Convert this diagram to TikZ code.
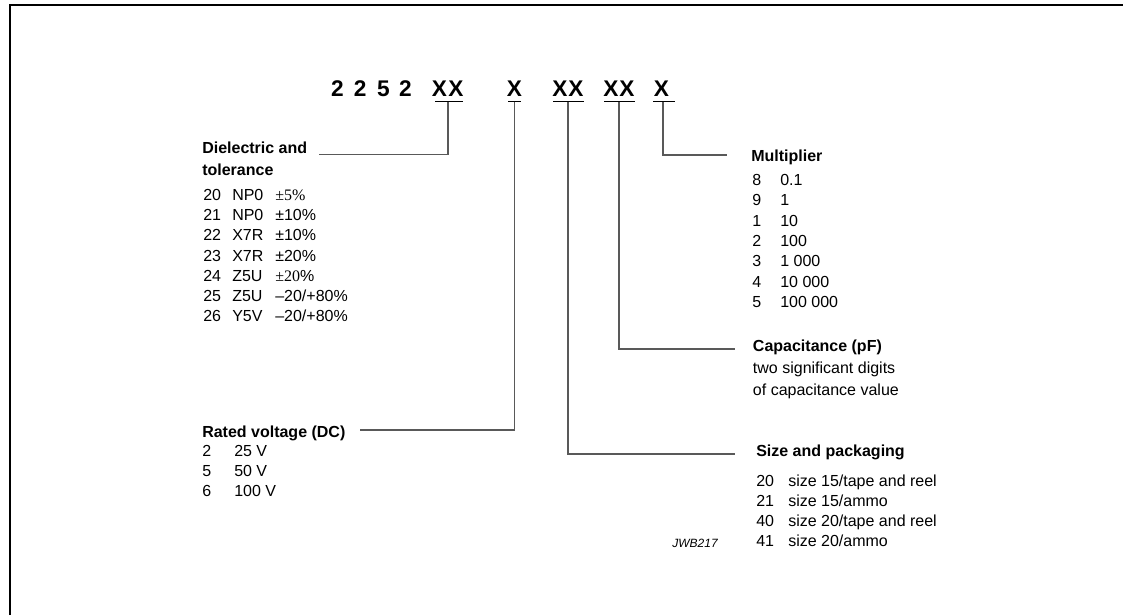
\documentclass[tikz,border=0pt]{standalone}
\usepackage{fontspec}
\setmainfont{Liberation Sans}
\newfontfamily\timesfont{Liberation Serif}
\usetikzlibrary{positioning,calc}
\tikzstyle{code}=[font=\fontsize{17}{20}\selectfont\bfseries, inner sep=0pt, anchor=base]
\tikzstyle{heading}=[font=\fontsize{12}{15}\selectfont\bfseries, inner sep=0pt, anchor=base west]
\tikzstyle{entry}=[font=\fontsize{12}{15}\selectfont, inner sep=0pt, anchor=base west]
\tikzstyle{underline}=[draw=black, line width=1.1pt]
\tikzstyle{leader}=[draw=black!65, line width=0.8pt]

\begin{document}
\begin{tikzpicture}[x=0.75pt, y=-0.75pt]

        \useasboundingbox (0,0) rectangle (1123,615);
        \draw[line width=1.5pt] (10,615) -- (10,5) -- (1123,5);

        % Type number
        \node (digit1) [code] at (337.5,96.7) {2};
        \node (digit2) [code] at ($(digit1.base)+(22.6,0)$) {2};
        \node (digit3) [code] at ($(digit2.base)+(23.4,0)$) {5};
        \node (digit4) [code] at ($(digit3.base)+(22,0)$) {2};

        \node (diel-x1) [code] at (439.5,96.7) {X};
        \node (diel-x2) [code] at ($(diel-x1.base)+(16.5,0)$) {X};
        \node (volt-x) [code] at (514.5,96.7) {X};
        \node (size-x1) [code] at (560,96.7) {X};
        \node (size-x2) [code] at ($(size-x1.base)+(16,0)$) {X};
        \node (cap-x1) [code] at (611,96.7) {X};
        \node (cap-x2) [code] at ($(cap-x1.base)+(16,0)$) {X};
        \node (mult-x) [code] at (661.5,96.7) {X};

        \coordinate (diel-field) at (449,101.7);
        \coordinate (volt-field) at (514.5,101.7);
        \coordinate (size-field) at (568.5,101.7);
        \coordinate (cap-field) at (619.5,101.7);
        \coordinate (mult-field) at (664,101.7);

        \draw[underline] ($(diel-field)+(-14,0)$) -- ($(diel-field)+(14,0)$);
        \draw[underline] ($(volt-field)+(-6.5,0)$) -- ($(volt-field)+(6.5,0)$);
        \draw[underline] ($(size-field)+(-15.5,0)$) -- ($(size-field)+(15.5,0)$);
        \draw[underline] ($(cap-field)+(-15.5,0)$) -- ($(cap-field)+(15.5,0)$);
        \draw[underline] ($(mult-field)+(-11,0)$) -- ($(mult-field)+(11,0)$);

        % Dielectric and tolerance
        \node (diel) [heading] at (202,153.5) {Dielectric and};
        \node (diel-b) [heading] at ($(diel.base west)+(0,21.5)$) {tolerance};

        \node (d20) [entry] at (203,200.5) {20};
        \node (d20-type) [entry] at ($(d20.base west)+(29,0)$) {NP0};
        \node (d20-tol) [entry] at ($(d20.base west)+(72,0)$) {{\timesfont ±5\%}};
        \node (d21) [entry] at ($(d20.base west)+(0,20.2)$) {21};
        \node (d21-type) [entry] at ($(d21.base west)+(29,0)$) {NP0};
        \node (d21-tol) [entry] at ($(d21.base west)+(72,0)$) {±10\%};
        \node (d22) [entry] at ($(d21.base west)+(0,20.2)$) {22};
        \node (d22-type) [entry] at ($(d22.base west)+(29,0)$) {X7R};
        \node (d22-tol) [entry] at ($(d22.base west)+(72,0)$) {±10\%};
        \node (d23) [entry] at ($(d22.base west)+(0,20.2)$) {23};
        \node (d23-type) [entry] at ($(d23.base west)+(29,0)$) {X7R};
        \node (d23-tol) [entry] at ($(d23.base west)+(72,0)$) {±20\%};
        \node (d24) [entry] at ($(d23.base west)+(0,20.2)$) {24};
        \node (d24-type) [entry] at ($(d24.base west)+(29,0)$) {Z5U};
        \node (d24-tol) [entry] at ($(d24.base west)+(72,0)$) {{\timesfont ±20}\%};
        \node (d25) [entry] at ($(d24.base west)+(0,20.2)$) {25};
        \node (d25-type) [entry] at ($(d25.base west)+(29,0)$) {Z5U};
        \node (d25-tol) [entry] at ($(d25.base west)+(72,0)$) {–20/+80\%};
        \node (d26) [entry] at ($(d25.base west)+(0,20.2)$) {26};
        \node (d26-type) [entry] at ($(d26.base west)+(29,0)$) {Y5V};
        \node (d26-tol) [entry] at ($(d26.base west)+(72,0)$) {–20/+80\%};

        % Rated voltage
        \node (volt) [heading] at (202,437) {Rated voltage (DC)};
        \node (v2) [entry] at ($(volt.base west)+(0,19)$) {2};
        \node (v2-val) [entry] at ($(v2.base west)+(32,0)$) {25 V};
        \node (v5) [entry] at ($(v2.base west)+(0,20)$) {5};
        \node (v5-val) [entry] at ($(v5.base west)+(32,0)$) {50 V};
        \node (v6) [entry] at ($(v5.base west)+(0,20)$) {6};
        \node (v6-val) [entry] at ($(v6.base west)+(32,0)$) {100 V};

        % Multiplier
        \node (mult) [heading] at (751,161) {Multiplier};
        \node (m8) [entry] at (752,185.3) {8};
        \node (m8-val) [entry] at ($(m8.base west)+(28,0)$) {0.1};
        \node (m9) [entry] at ($(m8.base west)+(0,20.4)$) {9};
        \node (m9-val) [entry] at ($(m9.base west)+(28,0)$) {1};
        \node (m1) [entry] at ($(m9.base west)+(0,20.4)$) {1};
        \node (m1-val) [entry] at ($(m1.base west)+(28,0)$) {10};
        \node (m2) [entry] at ($(m1.base west)+(0,20.4)$) {2};
        \node (m2-val) [entry] at ($(m2.base west)+(28,0)$) {100};
        \node (m3) [entry] at ($(m2.base west)+(0,20.4)$) {3};
        \node (m3-val) [entry] at ($(m3.base west)+(28,0)$) {1 000};
        \node (m4) [entry] at ($(m3.base west)+(0,20.4)$) {4};
        \node (m4-val) [entry] at ($(m4.base west)+(28,0)$) {10 000};
        \node (m5) [entry] at ($(m4.base west)+(0,20.4)$) {5};
        \node (m5-val) [entry] at ($(m5.base west)+(28,0)$) {100 000};

        % Capacitance
        \node (cap) [heading] at (752.7,351) {Capacitance (pF)};
        \node (cap-b) [entry] at ($(cap.base west)+(0,22)$) {two significant digits};
        \node (cap-c) [entry] at ($(cap-b.base west)+(0,22)$) {of capacitance value};

        % Size and packaging
        \node (size) [heading] at (756,456) {Size and packaging};
        \node (s20) [entry] at ($(size.base west)+(0,30)$) {20};
        \node (s20-val) [entry] at ($(s20.base west)+(32,0)$) {size 15/tape and reel};
        \node (s21) [entry] at ($(s20.base west)+(0,20)$) {21};
        \node (s21-val) [entry] at ($(s21.base west)+(32,0)$) {size 15/ammo};
        \node (s40) [entry] at ($(s21.base west)+(0,20)$) {40};
        \node (s40-val) [entry] at ($(s40.base west)+(32,0)$) {size 20/tape and reel};
        \node (s41) [entry] at ($(s40.base west)+(0,20)$) {41};
        \node (s41-val) [entry] at ($(s41.base west)+(32,0)$) {size 20/ammo};

        \node (drawing-code) [inner sep=0pt, anchor=base east, font=\fontsize{9}{11}\selectfont\itshape] at (718,547) {JWB217};

        % Leaders
        \coordinate (diel-end) at (319,154.3);
        \coordinate (volt-end) at (360,430);
        \coordinate (size-end) at (735,454);
        \coordinate (cap-end) at (735,349);
        \coordinate (mult-end) at (727,155);

        \draw[leader] ($(diel-field)+(-1,0)$) |- (diel-end);
        \draw[leader] (volt-field) |- (volt-end);
        \draw[leader] ($(size-field)+(-0.5,0)$) |- (size-end);
        \draw[leader] ($(cap-field)+(-0.5,0)$) |- (cap-end);
        \draw[leader] ($(mult-field)+(-1,0)$) |- (mult-end);

\end{tikzpicture}
\end{document}
